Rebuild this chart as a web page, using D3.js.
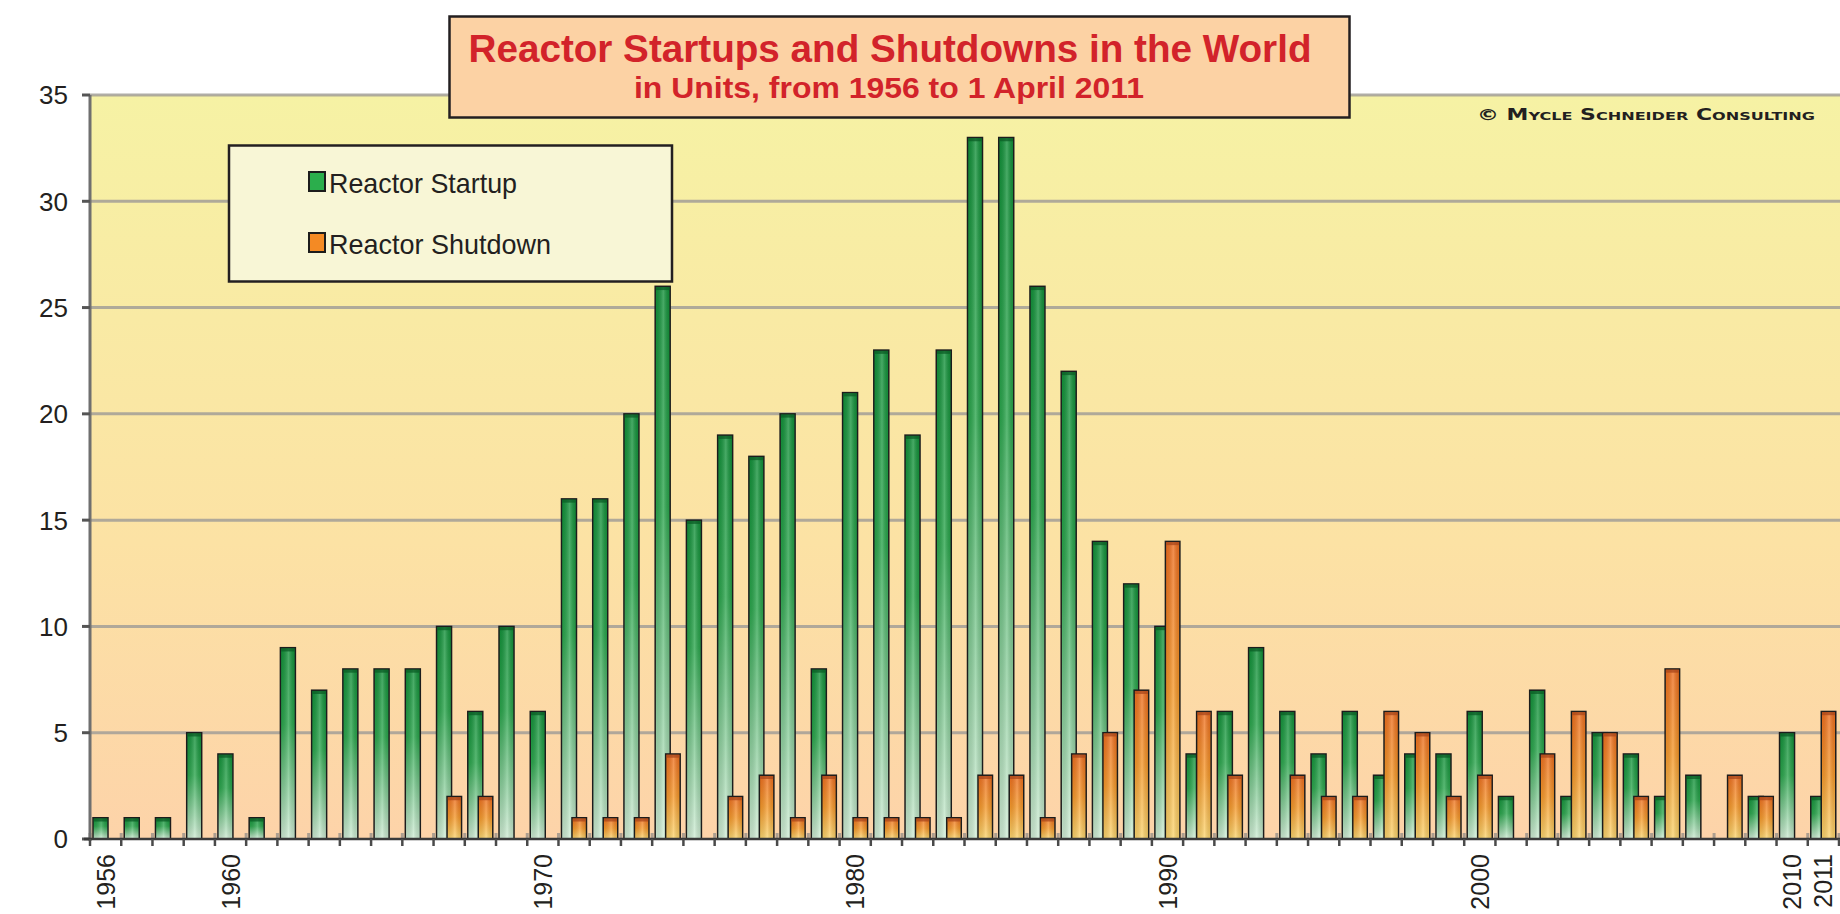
<!DOCTYPE html>
<html>
<head>
<meta charset="utf-8">
<script src="https://cdn.jsdelivr.net/npm/d3@7"></script>
<style>
  html, body { margin: 0; padding: 0; background: #fff; }
  svg { display: block; font-family: "Liberation Sans", Arial, sans-serif; }
</style>
</head>
<body>
<div id="chart"></div>
<script>
// Data (units per year)
const years = [1956, 1957, 1958, 1959, 1960, 1961, 1962, 1963, 1964, 1965,
  1966, 1967, 1968, 1969, 1970, 1971, 1972, 1973, 1974, 1975,
  1976, 1977, 1978, 1979, 1980, 1981, 1982, 1983, 1984, 1985,
  1986, 1987, 1988, 1989, 1990, 1991, 1992, 1993, 1994, 1995,
  1996, 1997, 1998, 1999, 2000, 2001, 2002, 2003, 2004, 2005,
  2006, 2007, 2008, 2009, 2010, 2011];
const startups = [1, 1, 1, 5, 4, 1, 9, 7, 8, 8,
  8, 10, 6, 10, 6, 16, 16, 20, 26, 15,
  19, 18, 20, 8, 21, 23, 19, 23, 33, 33,
  26, 22, 14, 12, 10, 4, 6, 9, 6, 4,
  6, 3, 4, 4, 6, 2, 7, 2, 5, 4,
  2, 3, 0, 2, 5, 2];
const shutdowns = [0, 0, 0, 0, 0, 0, 0, 0, 0, 0,
  0, 2, 2, 0, 0, 1, 1, 1, 4, 0,
  2, 3, 1, 3, 1, 1, 1, 1, 3, 3,
  1, 4, 5, 7, 14, 6, 3, 0, 3, 2,
  2, 6, 5, 2, 3, 0, 4, 6, 5, 2,
  8, 0, 3, 2, 0, 6];
const yTicks = [0, 5, 10, 15, 20, 25, 30, 35];
const labelYears = [1956, 1960, 1970, 1980, 1990, 2000, 2010, 2011];
const seriesNames = ["Reactor Startup", "Reactor Shutdown"];

const W = 1840, H = 914;
const plot = {left: 90, right: 1839, top: 95, bottom: 839};

const svg = d3.select("#chart")
  .append("svg")
  .attr("width", W)
  .attr("height", H);

const x = d3.scaleBand()
  .domain(years)
  .range([plot.left, plot.right]);

const y = d3.scaleLinear()
  .domain([0, 35])
  .range([plot.bottom, plot.top]);

const bw = x.bandwidth();

// Gradients
const defs = svg.append("defs");

function vGrad(id, stops) {
  const g = defs.append("linearGradient").attr("id", id)
    .attr("x1", 0).attr("y1", 0).attr("x2", 0).attr("y2", 1);
  stops.forEach(s => g.append("stop").attr("offset", s[0]).attr("stop-color", s[1]));
}
vGrad("bg", [[0, "#f6f2a4"], [0.6, "#fce2a4"], [1, "#fdd3a9"]]);
vGrad("green", [[0, "#13913a"], [0.4, "#2ba64d"], [1, "#d0ecd5"]]);
vGrad("orange", [[0, "#ee6e1f"], [0.5, "#f6992b"], [1, "#fcd66f"]]);

const shine = defs.append("linearGradient").attr("id", "shine")
  .attr("x1", 0).attr("y1", 0).attr("x2", 1).attr("y2", 0);
shine.append("stop").attr("offset", 0).attr("stop-color", "#000").attr("stop-opacity", 0.08);
shine.append("stop").attr("offset", 0.55).attr("stop-color", "#fff").attr("stop-opacity", 0.22);
shine.append("stop").attr("offset", 1).attr("stop-color", "#000").attr("stop-opacity", 0.1);

// Plot background
svg.append("rect")
  .attr("x", plot.left)
  .attr("y", plot.top)
  .attr("width", W - plot.left)
  .attr("height", plot.bottom - plot.top)
  .attr("fill", "url(#bg)");

// Gridlines
svg.append("g")
  .selectAll("line")
  .data(yTicks.filter(d => d > 0))
  .enter().append("line")
  .attr("x1", plot.left)
  .attr("x2", W)
  .attr("y1", d => y(d))
  .attr("y2", d => y(d))
  .attr("stroke", "#a39f98")
  .attr("stroke-width", 3)
  .attr("opacity", 0.85);

// Category ticks (shadow part above the axis)
const tickPos = years.map(d => x(d)).concat([plot.right]);
svg.append("g")
  .selectAll("line")
  .data(tickPos)
  .enter().append("line")
  .attr("x1", d => d).attr("x2", d => d)
  .attr("y1", plot.bottom - 6).attr("y2", plot.bottom)
  .attr("stroke", "#8c8a86")
  .attr("stroke-width", 3)
  .attr("opacity", 0.7);

// Bars
const rows = years.map((yr, i) => ({year: yr, s: startups[i], d: shutdowns[i]}));

function drawBars(key, off, w, fill, cap) {
  const data = rows.filter(r => r[key] > 0);
  const g = svg.append("g");
  g.selectAll(".bar")
    .data(data)
    .enter().append("rect")
    .attr("x", r => x(r.year) + off)
    .attr("y", r => y(r[key]))
    .attr("width", w)
    .attr("height", r => y(0) - y(r[key]))
    .attr("fill", fill)
    .attr("stroke", "#1c1c1c")
    .attr("stroke-width", 1.5);
  g.selectAll(".shine")
    .data(data)
    .enter().append("rect")
    .attr("x", r => x(r.year) + off + 1)
    .attr("y", r => y(r[key]) + 1)
    .attr("width", w - 2)
    .attr("height", r => y(0) - y(r[key]) - 1)
    .attr("fill", "url(#shine)");
  g.selectAll(".cap")
    .data(data)
    .enter().append("rect")
    .attr("x", r => x(r.year) + off + 0.75)
    .attr("y", r => y(r[key]) + 0.75)
    .attr("width", w - 1.5)
    .attr("height", 3)
    .attr("fill", cap)
    .attr("opacity", 0.75);
}
drawBars("s", 3, 15, "url(#green)", "#0b5e25");
drawBars("d", 13.5, 14.5, "url(#orange)", "#a9471b");

// Y axis
svg.append("line")
  .attr("x1", plot.left).attr("x2", plot.left)
  .attr("y1", plot.top).attr("y2", plot.bottom + 2)
  .attr("stroke", "#6f6f6f")
  .attr("stroke-width", 3);

svg.append("g")
  .selectAll("line")
  .data(yTicks)
  .enter().append("line")
  .attr("x1", plot.left - 8).attr("x2", plot.left)
  .attr("y1", d => y(d)).attr("y2", d => y(d))
  .attr("stroke", "#555")
  .attr("stroke-width", 3);

svg.append("g")
  .selectAll("text")
  .data(yTicks)
  .enter().append("text")
  .attr("x", 68)
  .attr("y", d => y(d))
  .attr("dy", "0.36em")
  .attr("text-anchor", "end")
  .style("font-size", "26px")
  .style("fill", "#231f20")
  .text(d => d);

// X axis line + ticks below
svg.append("line")
  .attr("x1", plot.left - 6).attr("x2", W)
  .attr("y1", plot.bottom).attr("y2", plot.bottom)
  .attr("stroke", "#3a3a3a")
  .attr("stroke-width", 2.5);

svg.append("g")
  .selectAll("line")
  .data(tickPos)
  .enter().append("line")
  .attr("x1", d => d).attr("x2", d => d)
  .attr("y1", plot.bottom).attr("y2", plot.bottom + 7)
  .attr("stroke", "#4a4a4a")
  .attr("stroke-width", 2.5);

svg.append("g")
  .selectAll("text")
  .data(labelYears)
  .enter().append("text")
  .attr("transform", d => `translate(${x(d) + bw / 2},854) rotate(-90)`)
  .attr("dy", "0.36em")
  .attr("text-anchor", "end")
  .style("font-size", "25px")
  .style("fill", "#231f20")
  .text(d => d);

// Copyright
svg.append("text")
  .attr("x", 1477)
  .attr("y", 120)
  .attr("textLength", 338)
  .attr("lengthAdjust", "spacingAndGlyphs")
  .style("font-family", "'DejaVu Sans', sans-serif")
  .style("font-size", "15px")
  .style("font-weight", "700")
  .style("font-variant", "small-caps")
  .style("fill", "#231f20")
  .text("© Mycle Schneider Consulting");

// Legend
const legend = svg.append("g");
legend.append("rect")
  .attr("x", 229).attr("y", 145.5)
  .attr("width", 443).attr("height", 136)
  .attr("fill", "#f8f6d6")
  .attr("stroke", "#231f20")
  .attr("stroke-width", 2.5);

const legendFills = ["#2bae4c", "#f48a24"];
seriesNames.forEach((name, i) => {
  const ly = 172 + i * 61;
  legend.append("rect")
    .attr("x", 309).attr("y", ly)
    .attr("width", 16).attr("height", 19)
    .attr("fill", legendFills[i])
    .attr("stroke", "#1c1c1c")
    .attr("stroke-width", 2);
  legend.append("text")
    .attr("x", 329).attr("y", ly + 21)
    .attr("textLength", i === 0 ? 188 : 222)
    .attr("lengthAdjust", "spacingAndGlyphs")
    .style("font-size", "28px")
    .style("fill", "#231f20")
    .text(name);
});

// Title box
svg.append("rect")
  .attr("x", 449.5).attr("y", 16.5)
  .attr("width", 900).attr("height", 101)
  .attr("fill", "#fcd2a4")
  .attr("stroke", "#231f20")
  .attr("stroke-width", 2.5);

svg.append("text")
  .attr("x", 890).attr("y", 62)
  .attr("text-anchor", "middle")
  .attr("textLength", 843)
  .attr("lengthAdjust", "spacingAndGlyphs")
  .style("font-size", "39px")
  .style("font-weight", "700")
  .style("fill", "#d2232a")
  .text("Reactor Startups and Shutdowns in the World");

svg.append("text")
  .attr("x", 889).attr("y", 98)
  .attr("text-anchor", "middle")
  .attr("textLength", 510)
  .attr("lengthAdjust", "spacingAndGlyphs")
  .style("font-size", "30px")
  .style("font-weight", "700")
  .style("fill", "#d2232a")
  .text("in Units, from 1956 to 1 April 2011");
</script>
</body>
</html>
